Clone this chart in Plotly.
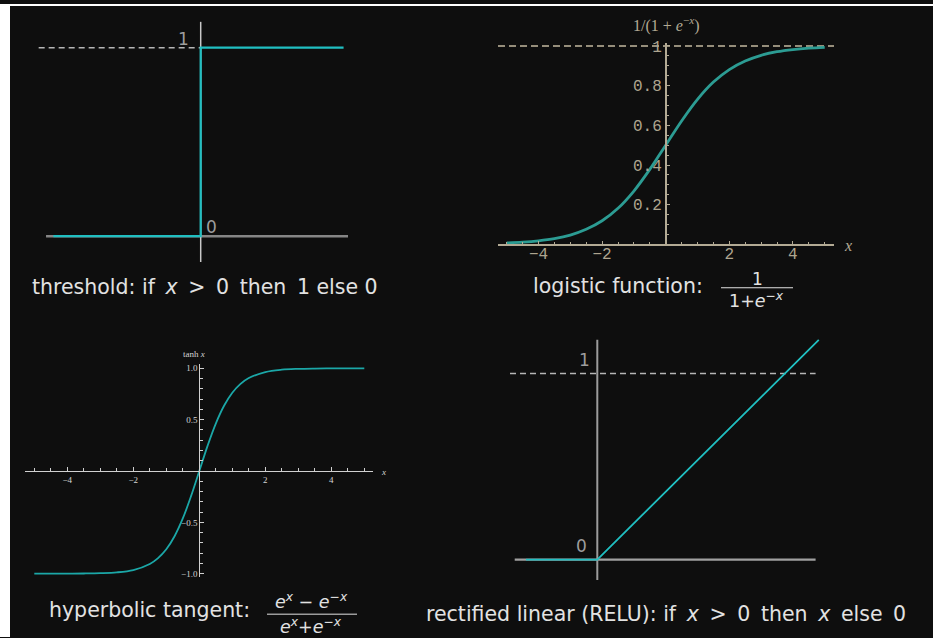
import plotly.graph_objects as go

W, H = 933, 638

# threshold step
thr_x = [-1.0, 0.0, 0.0, 0.97]
thr_y = [0.0, 0.0, 1.0, 1.0]

# logistic curve
log_x = [-5, -4.5, -4, -3.5, -3, -2.5, -2, -1.5, -1, -0.5, 0,
         0.5, 1, 1.5, 2, 2.5, 3, 3.5, 4, 4.5, 5]
log_y = [0.007, 0.011, 0.018, 0.029, 0.047, 0.076, 0.119, 0.182, 0.269, 0.378, 0.5,
         0.622, 0.731, 0.818, 0.881, 0.924, 0.953, 0.971, 0.982, 0.989, 0.993]

# hyperbolic tangent
tanh_x = [-5, -4.5, -4, -3.5, -3, -2.5, -2, -1.5, -1.25, -1, -0.75, -0.5, -0.25, 0,
          0.25, 0.5, 0.75, 1, 1.25, 1.5, 2, 2.5, 3, 3.5, 4, 4.5, 5]
tanh_y = [-1.0, -1.0, -0.999, -0.998, -0.995, -0.987, -0.964, -0.905, -0.848, -0.762,
          -0.635, -0.462, -0.245, 0.0, 0.245, 0.462, 0.635, 0.762, 0.848, 0.905,
          0.964, 0.987, 0.995, 0.998, 0.999, 1.0, 1.0]

# RELU
relu_x = [-0.38, 0.0, 1.18]
relu_y = [0.0, 0.0, 1.18]

log_xticks = [-4, -2, 2, 4]
log_yticks = [0.2, 0.4, 0.6, 0.8, 1]
tanh_xticks = [-4, -2, 2, 4]
tanh_yticks = [-1.0, -0.5, 0.5, 1.0]

TS = "&#8201;"  # thin space, for the wider math spacing of the captions
captions = [
    f"threshold: if{TS} <i>x</i>{TS} &gt;{TS} 0{TS} then{TS} 1 else 0",
    "logistic function:",
    "hyperbolic tangent:",
    f"rectified linear (RELU): if{TS} <i>x</i>{TS} &gt;{TS} 0{TS} then{TS} <i>x</i>{TS} else{TS} 0",
]

BG = "#0e0e0e"
CYAN = "#20bfc1"
TEXT = "#e2e2e2"
BEIGE = "#b3aa94"
SANS = "DejaVu Sans"


def px(x):
    return x / W


def py(y):
    return 1 - y / H


def frame(box, x_org, x_scale, y_org, y_scale):
    # box in pixels (left, top, right, bottom) -> domains and ranges
    l, t, r, b = box
    xa = dict(domain=[px(l), px(r)],
              range=[(l - x_org) / x_scale, (r - x_org) / x_scale])
    ya = dict(domain=[py(b), py(t)],
              range=[(y_org - b) / y_scale, (y_org - t) / y_scale])
    return xa, ya


hidden = dict(visible=False, showgrid=False, zeroline=False, fixedrange=True)

fig = go.Figure()


def line(x, y, ax, color, width, dash="solid", shape="linear"):
    fig.add_trace(go.Scatter(x=x, y=y, xaxis="x" + ax, yaxis="y" + ax, mode="lines",
                             line=dict(color=color, width=width, dash=dash, shape=shape),
                             hoverinfo="skip", showlegend=False))


# ---- panel 1: threshold ----
xa1, ya1 = frame((20, 8, 400, 270), 200.7, 147.3, 234, 190)
line([-1.05, 1.0], [0, 0], "", "#858585", 2.5)
line([0, 0], [-0.137, 1.137], "", "#c8c8c8", 1.5)
line([-1.10, 0], [1, 1], "", "#b5b5b5", 1.5, dash="6px,4px")
line(thr_x, thr_y, "", CYAN, 2.2)

# ---- panel 2: logistic (Mathematica style) ----
xa2 = dict(domain=[px(498), px(834)],
           range=[(498 - 665.7) / 31.8, (834 - 665.7) / 31.8])
ya2 = dict(domain=[py(242.3), py(39)], range=[0, (242.3 - 39) / 200])
line([xa2["range"][0], xa2["range"][1]], [1, 1], "2", "#c4b9a0", 1.5, dash="7px,4px")
line(log_x, log_y, "2", "#2c9c93", 2.8, shape="spline")

# ---- panel 3: tanh (Mathematica style) ----
xa3 = dict(domain=[px(25), px(373.3)],
           range=[(25 - 199.3) / 33, (373.3 - 199.3) / 33])
ya3 = dict(domain=[py(578), py(363)],
           range=[(470.7 - 578) / 103.5, (470.7 - 363) / 103.5])
line(tanh_x, tanh_y, "3", "#1ba7a7", 1.8, shape="spline")

# ---- panel 4: RELU ----
xa4, ya4 = frame((480, 320, 870, 595), 597.3, 187.7, 560, 187.7)
line([-0.44, 1.163], [0, 0], "4", "#a0a0a0", 2.2)
line([0, 0], [-0.11, 1.18], "4", "#9c9c9c", 2)
line([-0.465, 1.163], [1, 1], "4", "#b5b5b5", 1.5, dash="6px,4px")
line(relu_x, relu_y, "4", CYAN, 1.8)

mono = dict(family="Liberation Mono", size=16, color="#aea58f")
tiny = dict(family="Liberation Serif", size=9, color="#d4d4d4")

fig.update_layout(
    width=W, height=H, autosize=False,
    margin=dict(l=0, r=0, t=0, b=0, pad=0),
    paper_bgcolor=BG, plot_bgcolor="rgba(0,0,0,0)",
    showlegend=False,
    xaxis=dict(**xa1, **hidden, anchor="y"),
    yaxis=dict(**ya1, **hidden, anchor="x"),
    xaxis2=dict(**xa2, anchor="y2", showgrid=False, zeroline=False, fixedrange=True,
                showline=True, linecolor=BEIGE, linewidth=1.5,
                ticks="inside", ticklen=4, tickwidth=1.2, tickcolor=BEIGE,
                tickmode="array", tickvals=log_xticks, tickfont=mono,
                ticklabelstandoff=-6,
                minor=dict(ticks="inside", dtick=0.5, tick0=0, ticklen=2.5,
                           tickcolor=BEIGE, showgrid=False)),
    yaxis2=dict(**ya2, anchor="free", position=px(665.7), showgrid=False, zeroline=False,
                fixedrange=True, showline=True, linecolor=BEIGE, linewidth=1.5,
                ticks="inside", ticklen=4, tickwidth=1.2, tickcolor=BEIGE,
                tickmode="array", tickvals=log_yticks, tickfont=mono,
                minor=dict(ticks="inside", dtick=0.05, tick0=0, ticklen=2.5,
                           tickcolor=BEIGE, showgrid=False)),
    xaxis3=dict(**xa3, anchor="free", position=py(470.7), showgrid=False, zeroline=False,
                fixedrange=True, showline=True, linecolor="#d0d0d0", linewidth=1.2,
                ticks="inside", ticklen=4, tickwidth=1, tickcolor="#d0d0d0",
                tickmode="array", tickvals=tanh_xticks, tickfont=tiny,
                minor=dict(ticks="inside", dtick=0.5, tick0=0, ticklen=2.5,
                           tickcolor="#d0d0d0", showgrid=False)),
    yaxis3=dict(**ya3, anchor="free", position=px(199.3), showgrid=False, zeroline=False,
                fixedrange=True, showline=True, linecolor="#d0d0d0", linewidth=1.2,
                ticks="inside", ticklen=4, tickwidth=1, tickcolor="#d0d0d0",
                tickmode="array", tickvals=tanh_yticks, tickformat=".1f", tickfont=tiny,
                minor=dict(ticks="inside", dtick=0.1, tick0=0, ticklen=2.5,
                           tickcolor="#d0d0d0", showgrid=False)),
    xaxis4=dict(**xa4, **hidden, anchor="y4"),
    yaxis4=dict(**ya4, **hidden, anchor="x4"),
)

# white page strips at left and top edges
fig.add_shape(type="rect", xref="paper", yref="paper", x0=0, x1=px(10), y0=0, y1=1,
              fillcolor="white", line_width=0, layer="below")
fig.add_shape(type="rect", xref="paper", yref="paper", x0=0, x1=1, y0=py(2), y1=1,
              fillcolor="white", line_width=0, layer="below")


def note(text, x, y, size, color=TEXT, family=SANS, xanchor="center"):
    fig.add_annotation(text=text, x=px(x), y=py(y), xref="paper", yref="paper",
                       xanchor=xanchor, yanchor="middle", showarrow=False,
                       font=dict(family=family, size=size, color=color))


# axis value labels on the plain panels
for txt, x, y in [("1", 183, 35), ("0", 211, 225), ("1", 584, 359), ("0", 581, 546)]:
    note(txt, x, y, 17, color="#9d9d9d")

# Mathematica axis labels
note("1/(1 + <i>e</i><sup>−<i>x</i></sup>)", 666, 21, 16, color=BEIGE, family="Liberation Serif")
note("<i>x</i>", 848, 243, 16, color=BEIGE, family="Liberation Serif")
note("tanh <i>x</i>", 194, 353, 9, color="#d4d4d4", family="Liberation Serif")
note("<i>x</i>", 383, 472, 9, color="#d4d4d4", family="Liberation Serif")

# captions
note(captions[0], 205, 285, 20.5)
note(captions[1], 618, 284, 20.5)
note(captions[3], 666, 615, 20.5)
note(captions[2], 149, 611, 20.5)

# fractions
note("1", 757, 277, 17)
note("1+<i>e</i><sup>−<i>x</i></sup>", 756, 298, 17.5)
fig.add_shape(type="line", xref="paper", yref="paper", x0=px(721), x1=px(793),
              y0=py(286), y1=py(286), line=dict(color=TEXT, width=1))
note("<i>e</i><sup><i>x</i></sup> − <i>e</i><sup>−<i>x</i></sup>", 311, 602, 17.5)
note("<i>e</i><sup><i>x</i></sup>+<i>e</i><sup>−<i>x</i></sup>", 311, 627, 17.5)
fig.add_shape(type="line", xref="paper", yref="paper", x0=px(267), x1=px(357),
              y0=py(615), y1=py(615), line=dict(color=TEXT, width=1))

# the page's default body margin would push the figure 8px off the window
fig.write_html("out.html", config={"displayModeBar": False},
               post_script="document.body.style.margin='0px';")
